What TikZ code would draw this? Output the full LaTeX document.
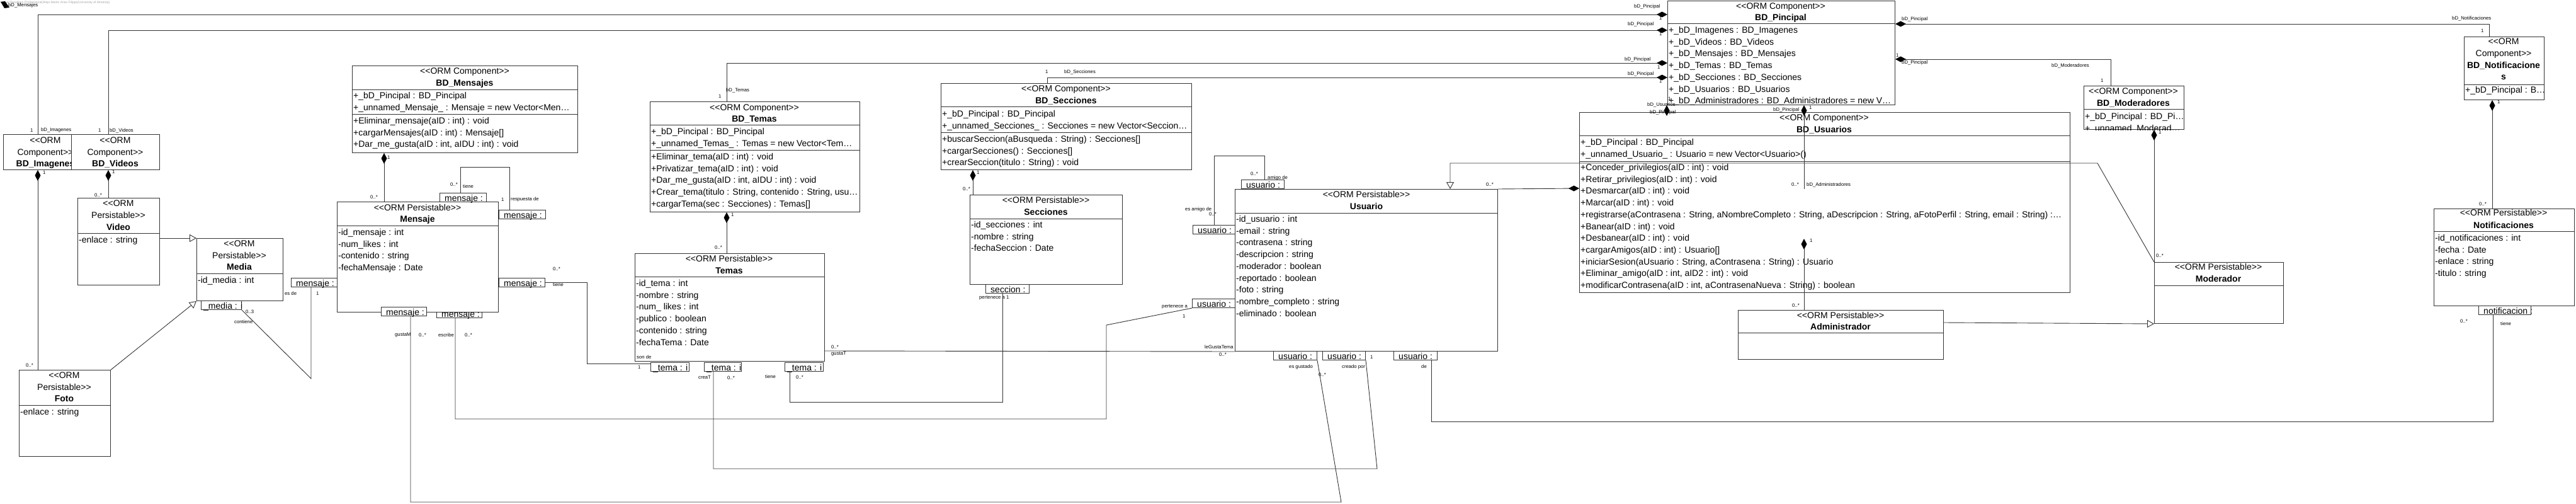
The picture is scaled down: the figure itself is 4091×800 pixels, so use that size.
\documentclass[tikz,border=0pt]{standalone}
\usepackage{fontspec}
\newfontfamily\umlfont{Liberation Sans}
\usetikzlibrary{arrows.meta}

\tikzset{
  cls/.style={draw=black!80, fill=white, line width=1pt, inner sep=0pt},
  txt/.style={font=\umlfont\fontsize{14}{16}\selectfont, inner sep=0pt, text height=10pt, text depth=3pt},
  cname/.style={txt, font=\umlfont\bfseries\fontsize{14}{16}\selectfont},
  attr/.style={txt, anchor=west},
  lbl/.style={font=\umlfont\fontsize{7.7}{9}\selectfont, inner sep=0pt, anchor=west},
  rolebx/.style={draw=black!80, fill=white, line width=1pt, inner sep=0pt, minimum height=14pt},
  sep/.style={draw=black!80, line width=1pt},
  assoc/.style={draw=black!80, line width=0.9pt},
  comp/.style={assoc, {Diamond[length=17pt, width=9pt, color=black]}-},
  gen/.style={assoc, -{Triangle[open, length=11pt, width=12pt, fill=white]}},
}

\newcommand{\clsbox}[5]{\node[cls, minimum width=#4pt, minimum height=#5pt, anchor=north west] (#1) at (#2,#3) {};}
\newcommand{\rows}[4]{\foreach \row [count=\n] in {#4} \node[attr] (#1\n) at (#2,{#3+(\n-1)*18.7}) {\row};}
\newcommand{\rolebox}[6]{%
  \node[rolebx, minimum width=#4pt, anchor=north west] (#1) at (#2,#3) {};
  \begin{scope}
    \clip (#1.south west) rectangle (#1.north east);
    \node[txt, anchor=base west] (#1-t) at ([xshift=#5pt, yshift=1.5pt]#1.south west) {#6};
  \end{scope}}

\begin{document}
\begin{tikzpicture}[x=1pt, y=-1pt]
\useasboundingbox (0,0) rectangle (4091,800);
\fill[white] (0,0) rectangle (4091,800);

\node[lbl, font=\umlfont\fontsize{5}{6}\selectfont, text=black!35] (wmark) at (1,4) {Visual Paradigm Professional(Alejo Martin Arias Filippo(University of Almeria))};
\fill[black] (1,3) -- (8,2) -- (15,12) -- (7,13) -- cycle;
\node[lbl] (bdmenlbl) at (13,9) {bD\_Mensajes};

\clsbox{bdimg}{5}{213}{134}{56}
\begin{scope}
  \clip (bdimg.south west) rectangle (bdimg.north east);
  \node[txt] (bdimg-s) at (72,224) {<<ORM};
  \node[txt] (bdimg-c) at (72,243) {Component>>};
  \node[cname] (bdimg-n) at (72,261) {BD\_Imagenes};
\end{scope}

\clsbox{bdvid}{113}{213}{140}{56}
\begin{scope}
  \clip (bdvid.south west) rectangle (bdvid.north east);
  \node[txt] (bdvid-s) at (183,224) {<<ORM};
  \node[txt] (bdvid-c) at (183,243) {Component>>};
  \node[cname] (bdvid-n) at (183,261) {BD\_Videos};
\end{scope}

\clsbox{video}{123}{314}{130}{138}
\begin{scope}
  \clip (video.south west) rectangle (video.north east);
  \node[txt] (video-s) at (188,324) {<<ORM};
  \node[txt] (video-c) at (188,343) {Persistable>>};
  \node[cname] (video-n) at (188,362) {Video};
  \draw[sep] (video.west |- 0,370) -- (video.east |- 0,370);
  \rows{video-a}{125}{382}{-enlace : string}
\end{scope}

\clsbox{media}{312}{378}{137}{99}
\begin{scope}
  \clip (media.south west) rectangle (media.north east);
  \node[txt] (media-s) at (380,388) {<<ORM};
  \node[txt] (media-c) at (380,407) {Persistable>>};
  \node[cname] (media-n) at (380,425) {Media};
  \draw[sep] (media.west |- 0,434) -- (media.east |- 0,434);
  \rows{media-a}{314}{446}{-id\_media : int}
\end{scope}

\clsbox{foto}{30}{587}{145}{137}
\begin{scope}
  \clip (foto.south west) rectangle (foto.north east);
  \node[txt] (foto-s) at (102,597) {<<ORM};
  \node[txt] (foto-c) at (102,616) {Persistable>>};
  \node[cname] (foto-n) at (102,634) {Foto};
  \draw[sep] (foto.west |- 0,643) -- (foto.east |- 0,643);
  \rows{foto-a}{32}{655}{-enlace : string}
\end{scope}

\clsbox{bdmen}{559}{104}{358}{138}
\begin{scope}
  \clip (bdmen.south west) rectangle (bdmen.north east);
  \node[txt] (bdmen-s) at (738,114) {<<ORM Component>>};
  \node[cname] (bdmen-n) at (738,133) {BD\_Mensajes};
  \draw[sep] (bdmen.west |- 0,142) -- (bdmen.east |- 0,142);
  \rows{bdmen-a}{561}{153}{+\_bD\_Pincipal : BD\_Pincipal, +\_unnamed\_Mensaje\_ : Mensaje = new Vector<Men\ldots}
  \draw[sep] (bdmen.west |- 0,181) -- (bdmen.east |- 0,181);
  \rows{bdmen-m}{561}{193}{+Eliminar\_mensaje(aID : int) : void, +cargarMensajes(aID : int) : Mensaje[], {+Dar\_me\_gusta(aID : int, aIDU : int) : void}}
\end{scope}

\rolebox{mesb2}{693}{490}{72}{8}{mensaje :}
\clsbox{mensaje}{535}{320}{256}{175}
\begin{scope}
  \clip (mensaje.south west) rectangle (mensaje.north east);
  \node[txt] (mensaje-s) at (663,331) {<<ORM Persistable>>};
  \node[cname] (mensaje-n) at (663,349) {Mensaje};
  \draw[sep] (mensaje.west |- 0,358) -- (mensaje.east |- 0,358);
  \rows{mensaje-a}{537}{370}{-id\_mensaje : int, -num\_likes : int, -contenido : string, -fechaMensaje : Date}
\end{scope}

\clsbox{bdtem}{1032}{161}{333}{175}
\begin{scope}
  \clip (bdtem.south west) rectangle (bdtem.north east);
  \node[txt] (bdtem-s) at (1198,172) {<<ORM Component>>};
  \node[cname] (bdtem-n) at (1198,190) {BD\_Temas};
  \draw[sep] (bdtem.west |- 0,198) -- (bdtem.east |- 0,198);
  \rows{bdtem-a}{1034}{210}{+\_bD\_Pincipal : BD\_Pincipal, +\_unnamed\_Temas\_ : Temas = new Vector<Tem\ldots}
  \draw[sep] (bdtem.west |- 0,238) -- (bdtem.east |- 0,238);
  \rows{bdtem-m}{1034}{250}{+Eliminar\_tema(aID : int) : void, +Privatizar\_tema(aID : int) : void, {+Dar\_me\_gusta(aID : int, aIDU : int) : void}, {+Crear\_tema(titulo : String, contenido : String, usu\ldots}, +cargarTema(sec : Secciones) : Temas[]}
\end{scope}

\clsbox{temas}{1008}{402}{301}{171}
\begin{scope}
  \clip (temas.south west) rectangle (temas.north east);
  \node[txt] (temas-s) at (1158,412) {<<ORM Persistable>>};
  \node[cname] (temas-n) at (1158,431) {Temas};
  \draw[sep] (temas.west |- 0,439) -- (temas.east |- 0,439);
  \rows{temas-a}{1010}{451}{-id\_tema : int, -nombre : string, -num\_ likes : int, -publico : boolean, -contenido : string, -fechaTema : Date}
\end{scope}

\clsbox{bdsec}{1494}{132}{398}{137}
\begin{scope}
  \clip (bdsec.south west) rectangle (bdsec.north east);
  \node[txt] (bdsec-s) at (1693,142) {<<ORM Component>>};
  \node[cname] (bdsec-n) at (1693,161) {BD\_Secciones};
  \draw[sep] (bdsec.west |- 0,169) -- (bdsec.east |- 0,169);
  \rows{bdsec-a}{1496}{182}{+\_bD\_Pincipal : BD\_Pincipal, +\_unnamed\_Secciones\_ : Secciones = new Vector<Seccion\ldots}
  \draw[sep] (bdsec.west |- 0,210) -- (bdsec.east |- 0,210);
  \rows{bdsec-m}{1496}{222}{+buscarSeccion(aBusqueda : String) : Secciones[], +cargarSecciones() : Secciones[], +crearSeccion(titulo : String) : void}
\end{scope}

\clsbox{secc}{1540}{309}{242}{142}
\begin{scope}
  \clip (secc.south west) rectangle (secc.north east);
  \node[txt] (secc-s) at (1661,319) {<<ORM Persistable>>};
  \node[cname] (secc-n) at (1661,338) {Secciones};
  \draw[sep] (secc.west |- 0,347) -- (secc.east |- 0,347);
  \rows{secc-a}{1542}{358}{-id\_secciones : int, -nombre : string, -fechaSeccion : Date}
\end{scope}

\clsbox{usuario}{1961}{300}{417}{257}
\begin{scope}
  \clip (usuario.south west) rectangle (usuario.north east);
  \node[txt] (usuario-s) at (2170,310) {<<ORM Persistable>>};
  \node[cname] (usuario-n) at (2170,329) {Usuario};
  \draw[sep] (usuario.west |- 0,338) -- (usuario.east |- 0,338);
  \rows{usuario-a}{1963}{349}{-id\_usuario : int, -email : string, -contrasena : string, -descripcion : string, -moderador : boolean, -reportado : boolean, -foto : string, -nombre\_completo : string, -eliminado : boolean}
\end{scope}

\clsbox{bdpin}{2648}{1}{361}{165}
\begin{scope}
  \clip (bdpin.south west) rectangle (bdpin.north east);
  \node[txt] (bdpin-s) at (2828,11) {<<ORM Component>>};
  \node[cname] (bdpin-n) at (2828,29) {BD\_Pincipal};
  \draw[sep] (bdpin.west |- 0,38) -- (bdpin.east |- 0,38);
  \rows{bdpin-a}{2650}{49}{+\_bD\_Imagenes : BD\_Imagenes, +\_bD\_Videos : BD\_Videos, +\_bD\_Mensajes : BD\_Mensajes, +\_bD\_Temas : BD\_Temas, +\_bD\_Secciones : BD\_Secciones, +\_bD\_Usuarios : BD\_Usuarios, +\_bD\_Administradores : BD\_Administradores = new V\ldots}
\end{scope}

\clsbox{bdusu}{2508}{178}{779}{286}
\begin{scope}
  \clip (bdusu.south west) rectangle (bdusu.north east);
  \node[txt] (bdusu-s) at (2897,188) {<<ORM Component>>};
  \node[cname] (bdusu-n) at (2897,207) {BD\_Usuarios};
  \draw[sep] (bdusu.west |- 0,215) -- (bdusu.east |- 0,215);
  \rows{bdusu-a}{2510}{227}{+\_bD\_Pincipal : BD\_Pincipal, +\_unnamed\_Usuario\_ : Usuario = new Vector<Usuario>()}
  \draw[sep] (bdusu.west |- 0,256) -- (bdusu.east |- 0,256);
  \rows{bdusu-m}{2510}{267}{+Conceder\_privilegios(aID : int) : void, +Retirar\_privilegios(aID : int) : void, +Desmarcar(aID : int) : void, +Marcar(aID : int) : void, {+registrarse(aContrasena : String, aNombreCompleto : String, aDescripcion : String, aFotoPerfil : String, email : String) :\ldots}, +Banear(aID : int) : void, +Desbanear(aID : int) : void, +cargarAmigos(aID : int) : Usuario[], {+iniciarSesion(aUsuario : String, aContrasena : String) : Usuario}, {+Eliminar\_amigo(aID : int, aID2 : int) : void}, {+modificarContrasena(aID : int, aContrasenaNueva : String) : boolean}}
\end{scope}

\clsbox{admin}{2760}{492}{326}{78}
\begin{scope}
  \clip (admin.south west) rectangle (admin.north east);
  \node[txt] (admin-s) at (2923,502) {<<ORM Persistable>>};
  \node[cname] (admin-n) at (2923,520) {Administrador};
  \draw[sep] (admin.west |- 0,528) -- (admin.east |- 0,528);
\end{scope}

\clsbox{bdmod}{3309}{136}{159}{69}
\begin{scope}
  \clip (bdmod.south west) rectangle (bdmod.north east);
  \node[txt] (bdmod-s) at (3388,146) {<<ORM Component>>};
  \node[cname] (bdmod-n) at (3388,165) {BD\_Moderadores};
  \draw[sep] (bdmod.west |- 0,173) -- (bdmod.east |- 0,173);
  \rows{bdmod-a}{3311}{186}{+\_bD\_Pincipal : BD\_Pi\ldots, +\_unnamed\_Moderad\ldots}
\end{scope}

\clsbox{moder}{3421}{416}{205}{97}
\begin{scope}
  \clip (moder.south west) rectangle (moder.north east);
  \node[txt] (moder-s) at (3523,425) {<<ORM Persistable>>};
  \node[cname] (moder-n) at (3523,444) {Moderador};
  \draw[sep] (moder.west |- 0,453) -- (moder.east |- 0,453);
\end{scope}

\clsbox{bdnot}{3913}{58}{127}{100}
\begin{scope}
  \clip (bdnot.south west) rectangle (bdnot.north east);
  \node[txt] (bdnot-s) at (3976,67) {<<ORM};
  \node[txt] (bdnot-c) at (3976,86) {Component>>};
  \node[cname] (bdnot-n) at (3976,105) {BD\_Notificacione};
  \node[cname] (bdnot-n2) at (3976,123) {s};
  \draw[sep] (bdnot.west |- 0,134) -- (bdnot.east |- 0,134);
  \rows{bdnot-a}{3915}{144}{+\_bD\_Pincipal : B\ldots}
\end{scope}

\clsbox{notif}{3865}{331}{223}{154}
\begin{scope}
  \clip (notif.south west) rectangle (notif.north east);
  \node[txt] (notif-s) at (3976,339) {<<ORM Persistable>>};
  \node[cname] (notif-n) at (3976,359) {Notificaciones};
  \draw[sep] (notif.west |- 0,367) -- (notif.east |- 0,367);
  \rows{notif-a}{3867}{379}{-id\_notificaciones : int, -fecha : Date, -enlace : string, -titulo : string}
\end{scope}

\rolebox{medr}{319}{477}{64}{4}{\_media : i}
\rolebox{mesl}{462}{441}{73}{8}{mensaje :}
\rolebox{mest}{698}{306}{74}{8}{mensaje :}
\rolebox{mesr}{792}{333}{74}{8}{mensaje :}
\rolebox{mesr2}{792}{441}{73}{8}{mensaje :}
\rolebox{mesb1}{605}{487}{72}{8}{mensaje :}
\rolebox{teml}{1033}{575}{61}{4}{\_tema : i}
\rolebox{temb2}{1118}{575}{59}{4}{\_tema : i}
\rolebox{temb3}{1246}{575}{61}{4}{\_tema : i}
\rolebox{secb}{1565}{451}{69}{8}{seccion :}
\rolebox{usut}{1971}{285}{68}{8}{usuario :}
\rolebox{usul1}{1894}{357}{67}{8}{usuario :}
\rolebox{usul2}{1893}{474}{68}{8}{usuario :}
\rolebox{usub1}{2022}{557}{69}{8}{usuario :}
\rolebox{usub2}{2100}{557}{68}{8}{usuario :}
\rolebox{usub3}{2213}{557}{69}{8}{usuario :}
\rolebox{notb}{3936}{485}{83}{8}{notificacion :}

\draw[comp] (bdpin.west |- 0,23) -| (60,0 |- bdimg.north);
\draw[comp] (bdpin.west |- 0,48) -| (172,0 |- bdvid.north);
\draw[comp] (bdpin.west |- 0,100) -| (1154,0 |- bdtem.north);
\draw[comp] (bdpin.west |- 0,123) -| (1663,0 |- bdsec.north);
\draw[comp] (bdpin.east |- 0,38) -| (3953,0 |- bdnot.north);
\draw[comp] (bdpin.east |- 0,94) -| (3352,0 |- bdmod.north);
\draw[comp] (2647,0 |- bdpin.south) -- (2647,0 |- bdusu.north);
\coordinate (bdadm) at (2865,300);
\draw[comp] (2865,0 |- bdpin.south) -- (bdadm);
\coordinate (bdadmc) at (2865,379);
\draw[comp] (bdadmc) -- (bdadmc |- admin.north);
\draw[comp] (bdusu.west |- 0,299) -- (usuario.north east);
\draw[comp] (60,0 |- bdimg.south) -- (60,0 |- foto.north);
\draw[comp] (172,0 |- bdvid.south) -- (172,0 |- video.north);
\draw[comp] (610,0 |- bdmen.south) -- (610,0 |- mensaje.north);
\draw[comp] (1154,0 |- bdtem.south) -- (1154,0 |- temas.north);
\draw[comp] (1545,0 |- bdsec.south) -- (1545,0 |- secc.north);
\draw[comp] (3421,0 |- bdmod.south) -- (3421,0 |- moder.north);
\draw[comp] (3958,0 |- bdnot.south) -- (3958,0 |- notif.north);

\draw[gen] (video.east |- 0,378) -- (media.north west);
\draw[gen] (foto.north east) -- (media.south west);
\draw[gen] (moder.north west) -- (3331,259) -| (2303,0 |- usuario.north);
\draw[gen] (admin.east |- 0,512) -- (moder.south west);

\draw[assoc] (medr.south east) -- (494,601) -- (494,0 |- mesl.south);
\draw[assoc] (731,0 |- mest.north) |- (809,265) -- (809,0 |- mesr.north);
\draw[assoc] (mesr2.east) -| (932,577) -- (teml.west |- 0,577);
\draw[assoc] (652,0 |- mesb1.south) |- (2130,797) -- (usub1.south east);
\draw[assoc] (723,0 |- mesb2.south) |- (1757,665) -- (1757,516) -- (usul2.south west);
\draw[assoc] (1133,0 |- temb2.south) |- (2187,744) -- (usub2.south east);
\draw[assoc] (1254,0 |- temb3.south) |- (1592,638) -- (1592,0 |- secb.south);
\draw[assoc] (temas.east |- 0,557) -- (usuario.south west);
\draw[assoc] (1928,0 |- usul1.north) |- (2008,247) -- (2008,0 |- usut.north);
\draw[assoc] (2273,0 |- usub3.south) |- (3959,669) -- (3959,0 |- notb.south);

\foreach \x/\y/\l [count=\n] in {48/207/1, 65/207/bD\_Imagenes, 156/207/1, 174/207/bD\_Videos,
  68/274/1, 178/273/1, 150/310/0..*, 41/580/0..*,
  390/495/0..3, 372/511/contiene, 452/466/es de, 502/466/1,
  615/250/1, 588/313/0..*, 715/293/0..*, 735/296/tiene, 796/317/1, 811/317/respuesta de,
  878/427/0..*, 878/452/tiene, 627/532/gustaM, 665/532/0..*, 696/532/escribe, 738/532/0..*,
  1141/153/1, 1153/143/bD\_Temas, 1161/341/1, 1135/393/0..*, 1011/567/son de, 1013/583/1,
  1109/599/creaT, 1155/600/0..*, 1215/598/tiene, 1264/599/0..*, 1320/551/0..*, 1320/562/gustaT,
  1660/114/1, 1690/114/bD\_Secciones, 1551/274/1, 1529/300/0..*, 1555/473/pertenece a 1,
  1882/333/es amigo de, 1920/340/0..*, 1986/276/0..*, 2013/283/amigo de, 1845/487/pertenece a, 1878/502/1,
  1913/551/leGustaTema, 1936/563/0..*, 2047/583/es gustado, 2094/595/0..*, 2131/583/creado por, 2176/567/1,
  2257/582/de, 2360/293/0..*,
  2595/11/bD\_Pincipal, 2635/29/1, 2585/39/bD\_Pincipal, 2635/54/1, 2580/95/bD\_Pincipal, 2632/107/1,
  2585/118/bD\_Pincipal, 2635/129/1, 3020/31/bD\_Pincipal, 3011/88/1, 3020/100/bD\_Pincipal,
  2649/157/1, 2616/166/bD\_Usuarios, 2620/179/bD\_Pincipal, 2816/175/bD\_Pincipal, 2873/171/1,
  2845/293/0..*, 2869/293/bD\_Administradores, 2874/382/1, 2846/485/0..*,
  3258/104/bD\_Moderadores, 3336/128/1, 3428/210/1, 3424/406/0..*,
  3894/29/bD\_Notificaciones, 3940/49/1, 3966/162/1, 3937/324/0..*, 3907/510/0..*, 3971/514/tiene}
  \node[lbl] (lab\n) at (\x,\y) {\l};
\end{tikzpicture}
\end{document}
